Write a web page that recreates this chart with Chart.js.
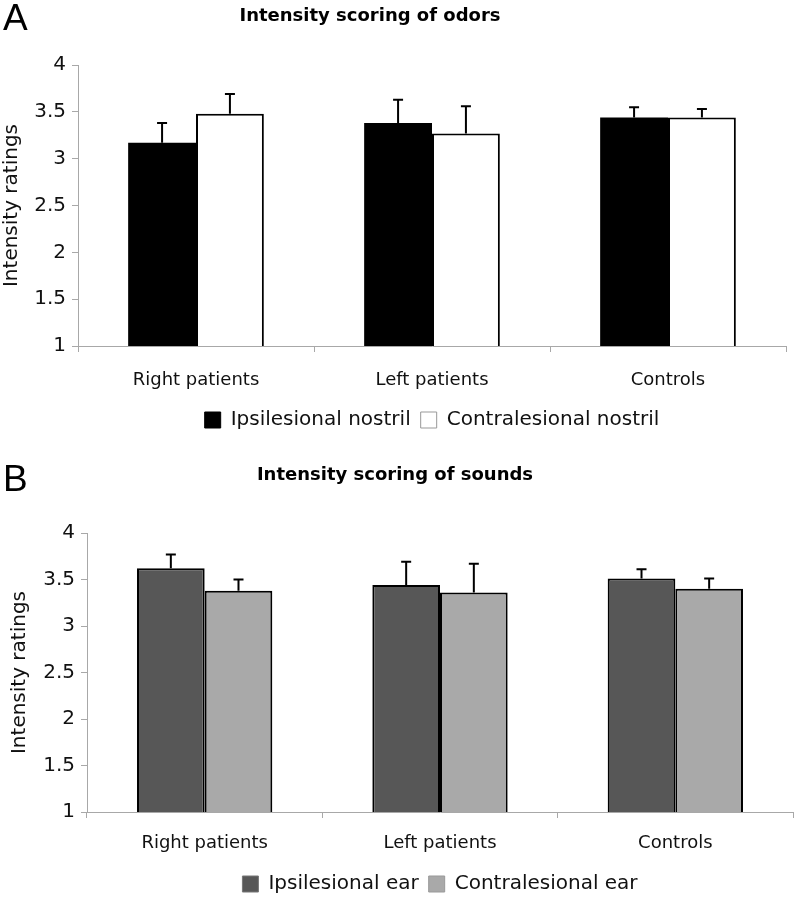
<!DOCTYPE html>
<html>
<head>
<meta charset="utf-8">
<script src="https://cdn.jsdelivr.net/npm/chart.js@4.4.1/dist/chart.umd.min.js"></script>
<style>
    html, body { margin: 0; padding: 0; background: #fff; overflow: hidden; }
    .panel { position: absolute; left: 0; width: 794px; }
</style>
</head>
<body>
<div class="panel" style="top:0;height:440px"><canvas id="chartA"></canvas></div>
<div class="panel" style="top:445px;height:459px"><canvas id="chartB"></canvas></div>
<script>
const categories = ['Right patients', 'Left patients', 'Controls'];
const yTicks = [1, 1.5, 2, 2.5, 3, 3.5, 4];

// A: odors
const odorIpsi = [3.17, 3.38, 3.44];
const odorIpsiErr = [0.21, 0.25, 0.11];
const odorContra = [3.48, 3.27, 3.44];
const odorContraErr = [0.21, 0.29, 0.09];

// B: sounds
const soundIpsi = [3.62, 3.44, 3.51];
const soundIpsiErr = [0.15, 0.25, 0.10];
const soundContra = [3.38, 3.36, 3.40];
const soundContraErr = [0.12, 0.31, 0.11];

const FONT = '"DejaVu Sans", Verdana, sans-serif';
const AXIS = '#a8a8a8';

// up-only error bars with a small cap
const errorBars = {
    id: 'errorBars',
    afterDatasetsDraw(chart) {
        const { ctx, scales: { y } } = chart;
        ctx.save();
        ctx.strokeStyle = '#000';
        ctx.lineWidth = 2;
        chart.data.datasets.forEach((ds, i) => {
            chart.getDatasetMeta(i).data.forEach((bar, j) => {
                const top = y.getPixelForValue(ds.data[j] + ds.errors[j]);
                ctx.beginPath();
                ctx.moveTo(bar.x, bar.y);
                ctx.lineTo(bar.x, top);
                ctx.moveTo(bar.x - 5, top);
                ctx.lineTo(bar.x + 5, top);
                ctx.stroke();
            });
        });
        ctx.restore();
    },
};

// panel letter + heading
const panelText = {
    id: 'panelText',
    afterDraw(chart, args, opts) {
        const ctx = chart.ctx;
        ctx.save();
        ctx.fillStyle = '#000';
        ctx.textBaseline = 'middle';
        ctx.textAlign = 'left';
        ctx.font = '37px "Liberation Sans Narrow", "Liberation Sans", Arial, sans-serif';
        ctx.fillText(opts.letter, opts.letterX, opts.letterY);
        ctx.textAlign = 'center';
        ctx.font = 'bold 18px ' + FONT;
        ctx.fillText(opts.title, opts.titleX, opts.titleY);
        ctx.restore();
    },
};

function makeChart(id, cfg) {
    return new Chart(document.getElementById(id), {
        type: 'bar',
        data: {
            labels: categories,
            datasets: cfg.series.map((s) => ({
                label: s.label,
                data: s.data,
                errors: s.errors,
                backgroundColor: s.fill,
                borderColor: '#000',
                borderWidth: s.border,
                legendStroke: s.legendStroke,
                barPercentage: 1,
                categoryPercentage: 0.575,
            })),
        },
        options: {
            responsive: true,
            maintainAspectRatio: false,
            animation: false,
            layout: { padding: cfg.padding },
            scales: {
                x: {
                    grid: { offset: true, drawOnChartArea: false, drawTicks: true, tickLength: 6, color: AXIS },
                    border: { color: AXIS },
                    ticks: { color: '#111', padding: cfg.xPad, font: { family: FONT, size: 18 } },
                    afterFit: (s) => { s.height = cfg.xHeight; },
                },
                y: {
                    min: 1,
                    max: 4,
                    afterBuildTicks: (s) => { s.ticks = yTicks.map((v) => ({ value: v })); },
                    grid: { drawOnChartArea: false, drawTicks: true, tickLength: 6, color: AXIS },
                    border: { color: AXIS },
                    ticks: { color: '#111', padding: 6, font: { family: FONT, size: 20 }, callback: (v) => String(v) },
                    title: { display: true, text: 'Intensity ratings', color: '#111', padding: 0, font: { family: FONT, size: 20 } },
                    afterFit: (s) => { s.width = cfg.yWidth; },
                },
            },
            plugins: {
                legend: {
                    position: 'bottom',
                    fullSize: false,
                    labels: {
                        color: '#111',
                        boxWidth: 16,
                        boxHeight: 16,
                        padding: 10,
                        font: { family: FONT, size: 20 },
                        generateLabels: (chart) =>
                            Chart.defaults.plugins.legend.labels.generateLabels(chart).map((item, i) => ({
                                ...item,
                                strokeStyle: chart.data.datasets[i].legendStroke,
                                lineWidth: 1,
                            })),
                    },
                },
                tooltip: { enabled: false },
                panelText: cfg.text,
            },
        },
        plugins: [errorBars, panelText],
    });
}

makeChart('chartA', {
    series: [
        { label: 'Ipsilesional nostril', data: odorIpsi, errors: odorIpsiErr, fill: '#000', border: 0, legendStroke: '#000' },
        { label: 'Contralesional nostril', data: odorContra, errors: odorContraErr, fill: '#fff', border: 2, legendStroke: '#999' },
    ],
    padding: { top: 65, right: 8, left: 0, bottom: 0 },
    yWidth: 78,
    xHeight: 54,
    xPad: 18,
    text: { letter: 'A', letterX: 3, letterY: 20, title: 'Intensity scoring of odors', titleX: 370, titleY: 16 },
});

makeChart('chartB', {
    series: [
        { label: 'Ipsilesional ear', data: soundIpsi, errors: soundIpsiErr, fill: '#575757', border: 2, legendStroke: '#777' },
        { label: 'Contralesional ear', data: soundContra, errors: soundContraErr, fill: '#a9a9a9', border: 2, legendStroke: '#999' },
    ],
    padding: { top: 88, right: 1, left: 8, bottom: 0 },
    yWidth: 79,
    xHeight: 52,
    xPad: 15,
    text: { letter: 'B', letterX: 3, letterY: 36, title: 'Intensity scoring of sounds', titleX: 395, titleY: 30 },
});
</script>
</body>
</html>
